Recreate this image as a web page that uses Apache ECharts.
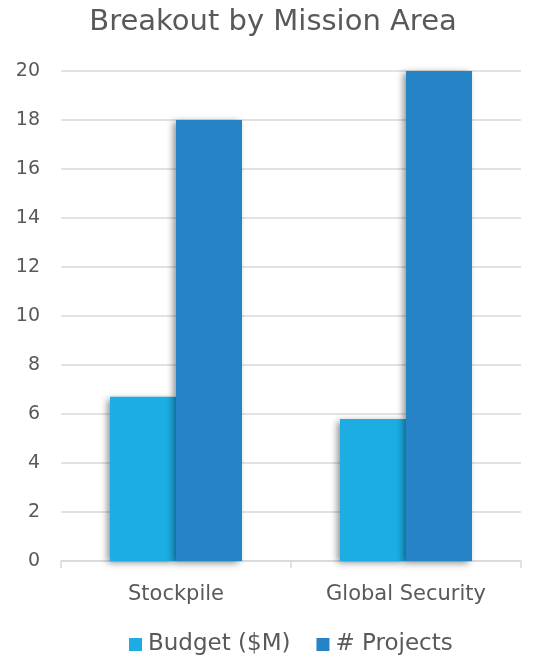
<!DOCTYPE html>
<html>
<head>
<meta charset="utf-8">
<style>
  html, body { margin: 0; padding: 0; background: #ffffff; }
  #chart { width: 546px; height: 659px; }
</style>
<script src="https://cdn.jsdelivr.net/npm/echarts@6/dist/echarts.min.js"></script>
</head>
<body>
<div id="chart"></div>
<script>
// Mission areas and the two measures shown for each
const categories = ['Stockpile', 'Global Security'];
const budgetValues = [6.7, 5.8];
const projectValues = [18, 20];
const seriesNames = ['Budget ($M)', '# Projects'];
const yTicks = { min: 0, max: 20, interval: 2 };

const FONT = 'DejaVu Sans';
const TEXT = '#595959';

const barShadow = {
  shadowColor: 'rgba(0,0,0,0.45)',
  shadowBlur: 7,
  shadowOffsetX: -3,
  shadowOffsetY: 2
};

const chart = echarts.init(document.getElementById('chart'), null, { renderer: 'canvas' });
chart.setOption({
  animation: false,
  backgroundColor: '#ffffff',
  title: {
    text: 'Breakout by Mission Area',
    left: 'center',
    top: 3,
    textStyle: { fontFamily: FONT, fontSize: 29, fontWeight: 'normal', color: TEXT }
  },
  legend: {
    data: seriesNames,
    top: 628,
    left: 124,
    itemWidth: 13,
    itemHeight: 13,
    itemGap: 26,
    icon: 'rect',
    textStyle: { fontFamily: FONT, fontSize: 23, color: TEXT, padding: [0, 0, 0, 1] }
  },
  grid: { left: 61, right: 25, top: 71, bottom: 98, containLabel: false },
  xAxis: {
    type: 'category',
    data: categories,
    axisLine: { lineStyle: { color: '#d9d9d9', width: 1.5 } },
    axisTick: { show: true, length: 7, lineStyle: { color: '#d9d9d9', width: 1.5 } },
    axisLabel: { fontFamily: FONT, fontSize: 21, color: TEXT, margin: 23 }
  },
  yAxis: {
    type: 'value',
    min: yTicks.min,
    max: yTicks.max,
    interval: yTicks.interval,
    axisLine: { show: false },
    axisTick: { show: false },
    splitLine: { lineStyle: { color: '#d9d9d9', width: 1.5 } },
    axisLabel: { fontFamily: FONT, fontSize: 19, color: TEXT, margin: 21 }
  },
  series: [
    {
      name: seriesNames[0],
      type: 'bar',
      data: budgetValues,
      barGap: '0%',
      barCategoryGap: '42.6%',
      itemStyle: Object.assign({ color: '#1CADE4' }, barShadow)
    },
    {
      name: seriesNames[1],
      type: 'bar',
      data: projectValues,
      itemStyle: Object.assign({ color: '#2683C6' }, barShadow)
    }
  ]
});
</script>
</body>
</html>
